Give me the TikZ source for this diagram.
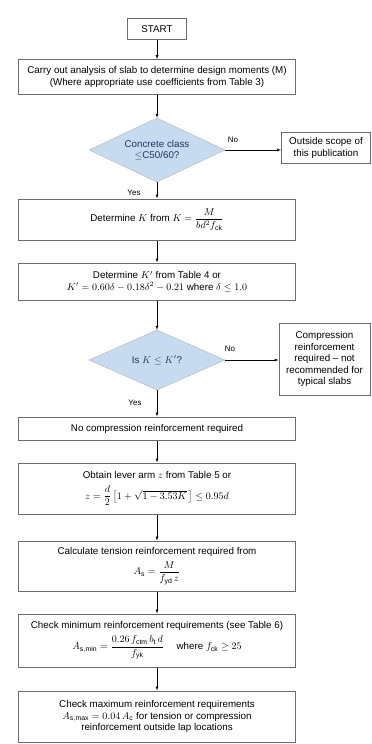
\documentclass[tikz,border=0pt]{standalone}
\usepackage{amsmath}
\usepackage{amssymb}
\usepackage{fontspec}
\setmainfont{Liberation Sans}
\usepackage{tikz}
\usetikzlibrary{shapes.geometric}
\definecolor{diafill}{RGB}{198,219,239}
\definecolor{diatext}{RGB}{40,50,90}

\begin{document}
\begin{tikzpicture}[x=1pt,y=-1pt,
    flowbox/.style={rectangle, draw=gray!85!black, line width=1pt,
        align=center, font=\fontsize{9.8}{11.5}\selectfont, inner sep=2pt},
    decide/.style={diamond, draw=gray!60, fill=diafill, text=diatext, align=center, aspect=2,
        inner sep=0pt, font=\fontsize{9.8}{11.5}\selectfont},
    lbl/.style={font=\fontsize{8}{9}\selectfont},
    >=latex]
    \useasboundingbox (0,0) rectangle (372,744);
    \node[flowbox, minimum width=59pt, minimum height=21pt] (start) at (157,29) {START};
    \node[flowbox, minimum width=277pt, minimum height=35pt] (anal) at (157,77)
        {Carry out analysis of slab to determine design moments (M)\\(Where appropriate use coefficients from Table 3)};
    \node[decide, minimum width=136pt, minimum height=64pt] (class) at (157,150)
        {Concrete class\\$\leq$C50/60?};
    \node[flowbox, minimum width=89pt, minimum height=31pt] (scope) at (326,148)
        {Outside scope of\\this publication};
    \node[flowbox, minimum width=277pt, minimum height=41pt] (kbox) at (157,219.5)
        {Determine $K$ from $K=\dfrac{M}{bd^2 f_{\mathrm{ck}}}$};
    \node[flowbox, minimum width=277pt, minimum height=37pt] (kdash) at (157,281.5)
        {Determine $K'$ from Table 4 or\\$K' = 0.60\delta - 0.18\delta^2 - 0.21$ where $\delta \leq 1.0$};
    \node[decide, minimum width=136pt, minimum height=60pt] (kcheck) at (157,360)
        {Is $K \leq K'$?};
    \node[flowbox, minimum width=91pt, minimum height=72pt] (comp) at (324.5,359)
        {Compression\\reinforcement\\required -- not\\recommended for\\typical slabs};
    \node[flowbox, minimum width=277pt, minimum height=23pt] (nocomp) at (157,428.5)
        {No compression reinforcement required};
    \node[flowbox, minimum width=277pt, minimum height=51pt] (zbox) at (157,488.5)
        {Obtain lever arm $z$ from Table 5 or\\[6pt]
        $z=\dfrac{d}{2}\left[1+\sqrt{1-3.53K}\,\right]\leq 0.95d$};
    \node[flowbox, minimum width=277pt, minimum height=50pt] (asbox) at (157,566)
        {Calculate tension reinforcement required from\\[4pt]
        $A_{\mathrm{s}} = \dfrac{M}{f_{\mathrm{yd}}\,z}$};
    \node[flowbox, minimum width=277pt, minimum height=53pt] (minbox) at (157,640.5)
        {Check minimum reinforcement requirements (see Table 6)\\[4pt]
        $A_{\mathrm{s,min}} = \dfrac{0.26\,f_{\mathrm{ctm}}\,b_{\mathrm{t}}\,d}{f_{\mathrm{yk}}}$ \quad where $f_{\mathrm{ck}} \geq 25$};
    \node[flowbox, minimum width=277pt, minimum height=51pt] (maxbox) at (157,716.5)
        {Check maximum reinforcement requirements\\
        $A_{\mathrm{s,max}} = 0.04\,A_{\mathrm{c}}$ for tension or compression\\
        reinforcement outside lap locations};
    \node[lbl] (no1) at (233,140) {No};
    \node[lbl] (yes1) at (134,193) {Yes};
    \node[lbl] (no2) at (230,349) {No};
    \node[lbl] (yes2) at (135,403) {Yes};
    \draw[->] (start) -- (anal);
    \draw[->] (anal) -- (class);
    \draw[->] (class.east) -- (class.east -| scope.west);
    \draw[->] (class) -- (kbox);
    \draw[->] (kbox) -- (kdash);
    \draw[->] (kdash) -- (kcheck);
    \draw[->] (kcheck.east) -- (kcheck.east -| comp.west);
    \draw[->] (kcheck) -- (nocomp);
    \draw[->] (nocomp) -- (zbox);
    \draw[->] (zbox) -- (asbox);
    \draw[->] (asbox) -- (minbox);
    \draw[->] (minbox) -- (maxbox);
\end{tikzpicture}
\end{document}
